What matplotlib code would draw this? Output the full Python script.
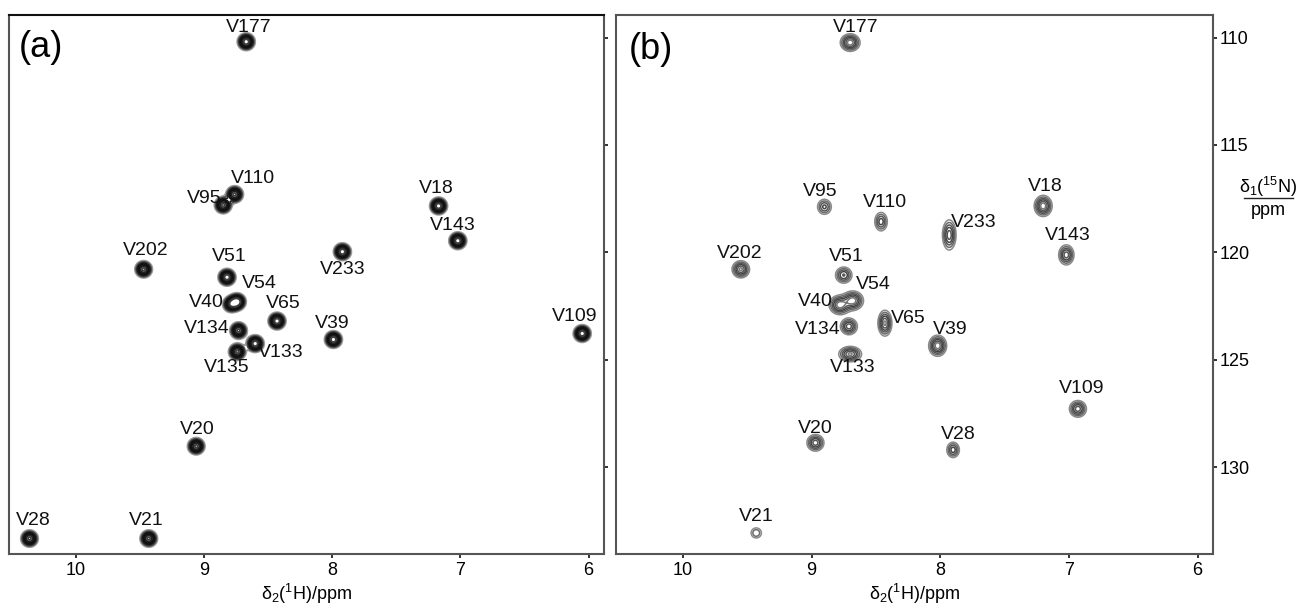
import numpy as np
import matplotlib
matplotlib.use("Agg")
import matplotlib.pyplot as plt
from matplotlib.lines import Line2D

plt.rcParams['font.family'] = ['Liberation Sans', 'DejaVu Sans']
plt.rcParams['mathtext.fontset'] = 'custom'
plt.rcParams['mathtext.rm'] = 'Liberation Sans'
plt.rcParams['mathtext.it'] = 'Liberation Sans:italic'

# ---------------- Panel (a) peaks ----------------
labels_a = ['V177', 'V110', 'V95', 'V18', 'V143', 'V233', 'V202', 'V51', 'V54',
            'V40', 'V65', 'V134', 'V39', 'V109', 'V133', 'V135', 'V20', 'V28', 'V21']
h_a = [8.67, 8.76, 8.85, 7.17, 7.02, 7.92, 9.47, 8.82, 8.74,
       8.79, 8.43, 8.73, 7.99, 6.05, 8.60, 8.74, 9.06, 10.36, 9.43]
n_a = [110.19, 117.30, 117.80, 117.84, 119.46, 119.97, 120.79, 121.16, 122.30,
       122.42, 123.20, 123.64, 124.06, 123.78, 124.25, 124.63, 129.03, 133.33, 133.33]
amp_a = [1.0, 0.9, 0.9, 1.0, 1.0, 1.0, 0.9, 1.0, 1.0,
         0.7, 1.0, 0.9, 1.0, 1.0, 1.0, 0.9, 0.9, 0.9, 0.9]
lab_h_a = [8.65, 8.62, 9.00, 7.19, 7.06, 7.92, 9.45, 8.80, 8.57,
           8.98, 8.38, 8.98, 8.00, 6.11, 8.40, 8.82, 9.05, 10.33, 9.45]
lab_n_a = [109.52, 116.58, 117.48, 117.05, 118.77, 120.82, 119.90, 120.20, 121.45,
           122.35, 122.40, 123.56, 123.33, 123.00, 124.66, 125.36, 128.25, 132.47, 132.47]

# ---------------- Panel (b) peaks ----------------
labels_b = ['V177', 'V95', 'V110', 'V233', 'V18', 'V143', 'V202', 'V51', 'V54',
            'V40', 'V134', 'V65', 'V39', 'V133', 'V109', 'V20', 'V28', 'V21']
h_b = [8.70, 8.90, 8.46, 7.93, 7.20, 7.02, 9.55, 8.75, 8.68,
       8.78, 8.71, 8.43, 8.02, 8.70, 6.93, 8.97, 7.90, 9.43]
n_b = [110.23, 117.88, 118.57, 119.19, 117.84, 120.12, 120.79, 121.06, 122.25,
       122.45, 123.45, 123.30, 124.35, 124.74, 127.29, 128.87, 129.20, 133.07]
amp_b = [1.0, 0.55, 0.6, 0.8, 1.0, 0.8, 0.9, 0.7, 1.0,
         1.0, 0.8, 0.9, 1.0, 0.9, 0.8, 0.8, 0.6, 0.35]
wh_b = [1.1, 0.9, 0.8, 0.8, 1.0, 0.9, 1.0, 1.0, 1.2,
        1.2, 1.0, 0.8, 1.0, 1.3, 1.0, 1.0, 0.8, 0.8]
wn_b = [1.0, 1.0, 1.2, 1.8, 1.2, 1.2, 1.0, 1.0, 1.1,
        1.1, 1.0, 1.5, 1.2, 0.9, 1.0, 1.0, 1.0, 0.8]
lab_h_b = [8.66, 8.93, 8.43, 7.74, 7.18, 7.01, 9.56, 8.73, 8.52,
           8.97, 8.95, 8.25, 7.92, 8.68, 6.90, 8.97, 7.86, 9.43]
lab_n_b = [109.55, 117.18, 117.70, 118.63, 116.93, 119.20, 120.05, 120.20, 121.50,
           122.30, 123.58, 123.07, 123.58, 125.36, 126.36, 128.22, 128.50, 132.32]

x_ticks = [10, 9, 8, 7, 6]
y_ticks = [110, 115, 120, 125, 130]
x_lim = (10.52, 5.88)
y_lim = (134.05, 108.96)

SX, SY = 0.034, 0.20
levels_a = [0.12, 0.2, 0.3, 0.42, 0.55, 0.7, 0.85]
levels_b = [0.12, 0.22, 0.35, 0.5, 0.68, 0.85]

gx = np.linspace(5.88, 10.52, 1600)
gy = np.linspace(108.96, 134.05, 900)
GX, GY = np.meshgrid(gx, gy)


def spectrum(hs, ns, amps, whs=None, wns=None):
    Z = np.zeros_like(GX)
    for i, (h, n, a) in enumerate(zip(hs, ns, amps)):
        sx = SX * (whs[i] if whs else 1.0)
        sy = SY * (wns[i] if wns else 1.0)
        Z += a * np.exp(-((GX - h) ** 2) / (2 * sx ** 2) - ((GY - n) ** 2) / (2 * sy ** 2))
    return Z


fig = plt.figure(figsize=(12.96, 6.10), dpi=100)
ax_a = fig.add_axes([9 / 1296, 1 - 554 / 610, (604 - 9) / 1296, (554 - 15.3) / 610])
ax_b = fig.add_axes([616 / 1296, 1 - 554 / 610, (1213 - 616) / 1296, (554 - 15.3) / 610])

Za = spectrum(h_a, n_a, amp_a)
ax_a.contour(GX, GY, Za, levels=levels_a,
             colors=['#9a9a9a', '#505050', '#202020', '#101010', '#101010', '#202020', '#404040'],
             linewidths=1.3)
Zb = spectrum(h_b, n_b, amp_b, wh_b, wn_b)
ax_b.contour(GX, GY, Zb, levels=levels_b,
             colors=['#8a8a8a', '#6a6a6a', '#555555', '#444444', '#555555', '#777777'],
             linewidths=1.1)

for ax, labs, lx, ly in [(ax_a, labels_a, lab_h_a, lab_n_a), (ax_b, labels_b, lab_h_b, lab_n_b)]:
    for t, x, y in zip(labs, lx, ly):
        ax.text(x, y, t, ha='center', va='center', fontsize=14, color='#111111')
    ax.set_xlim(*x_lim)
    ax.set_ylim(*y_lim)
    ax.set_xticks(x_ticks)
    ax.set_yticks(y_ticks)
    ax.yaxis.tick_right()
    ax.tick_params(direction='out', length=3, width=1.3, color='#222222',
                   labelsize=13, pad=3)
    for s in ax.spines.values():
        s.set_color('#555555')
        s.set_linewidth(1.5)
    ax.set_xlabel('δ$_2$($^1$H)/ppm', fontsize=13, labelpad=2)

ax_a.tick_params(axis='y', labelright=False)
ax_a.spines['top'].set_color('#111111')
ax_b.tick_params(axis='y', pad=2)

ax_a.text(10.27, 110.45, '(a)', fontsize=26, ha='center', va='center')
ax_b.text(10.25, 110.55, '(b)', fontsize=26, ha='center', va='center')

# y-axis label as a fraction on the right
fig.text(1268 / 1296, 1 - 187 / 610, 'δ$_1$($^{15}$N)', ha='center', va='center', fontsize=13)
fig.text(1268 / 1296, 1 - 211 / 610, 'ppm', ha='center', va='center', fontsize=13)
fig.add_artist(Line2D([1244 / 1296, 1293 / 1296], [1 - 198 / 610, 1 - 198 / 610],
                      color='#222222', linewidth=1.0, transform=fig.transFigure))

fig.savefig('out.png', dpi=100)
